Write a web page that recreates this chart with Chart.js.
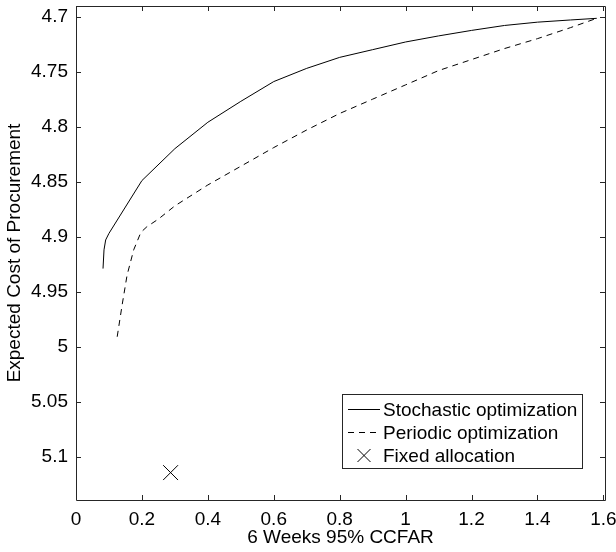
<!DOCTYPE html>
<html>
<head>
<meta charset="utf-8">
<script src="https://cdn.jsdelivr.net/npm/chart.js@4"></script>
<style>
  html, body { margin: 0; padding: 0; background: #fff; }
  #wrap { width: 616px; height: 552px; }
</style>
</head>
<body>
<div id="wrap"><canvas id="chart" width="616" height="552"></canvas></div>
<script>
(function () {
  "use strict";

  var xTickValues = [0, 0.2, 0.4, 0.6, 0.8, 1, 1.2, 1.4, 1.6];
  var yTickValues = [4.7, 4.75, 4.8, 4.85, 4.9, 4.95, 5, 5.05, 5.1];

  var stochasticX = [0.082, 0.085, 0.09, 0.1, 0.2, 0.3, 0.4, 0.5, 0.6, 0.7, 0.8, 0.9, 1.0, 1.1, 1.2, 1.3, 1.4, 1.5, 1.58];
  var stochasticY = [4.929, 4.912, 4.903, 4.897, 4.849, 4.820, 4.796, 4.777, 4.759, 4.747, 4.737, 4.730, 4.723, 4.7175, 4.7125, 4.708, 4.705, 4.703, 4.7015];

  var periodicX = [0.125, 0.14, 0.155, 0.175, 0.197, 0.215, 0.25, 0.3, 0.4, 0.5, 0.6, 0.7, 0.8, 0.9, 1.0, 1.1, 1.2, 1.3, 1.4, 1.5, 1.58];
  var periodicY = [4.991, 4.962, 4.935, 4.912, 4.896, 4.891, 4.884, 4.872, 4.853, 4.836, 4.819, 4.803, 4.788, 4.775, 4.762, 4.749, 4.739, 4.729, 4.720, 4.710, 4.7015];

  var fixedX = [0.287];
  var fixedY = [5.1145];

  var seriesLabels = ["Stochastic optimization", "Periodic optimization", "Fixed allocation"];

  var FONT = "'Liberation Sans', Arial, Helvetica, sans-serif";
  var SIZE = 19;
  var INK = "#000";
  var AXIS = "#262626";

  function toPoints(xs, ys) {
    return xs.map(function (x, i) {
      return { x: x, y: ys[i] };
    });
  }

  function fmt(v) {
    return String(+v.toFixed(2));
  }

  function zeroPadding(scale) {
    scale.paddingTop = 0;
    scale.paddingBottom = 0;
    scale.paddingLeft = 0;
    scale.paddingRight = 0;
  }

  // MATLAB style box with inward ticks on all four sides
  var boxPlugin = {
    id: "matlabBox",
    afterDatasetsDraw: function (chart) {
      var ctx = chart.ctx;
      var a = chart.chartArea;
      var xs = chart.scales.x;
      var ys = chart.scales.y;
      var len = 5;
      ctx.save();
      ctx.strokeStyle = AXIS;
      ctx.lineWidth = 1;
      ctx.beginPath();
      ctx.rect(Math.round(a.left) + 0.5, Math.round(a.top) + 0.5,
        Math.round(a.right - a.left), Math.round(a.bottom - a.top));
      xTickValues.forEach(function (v) {
        var px = Math.round(xs.getPixelForValue(v)) + 0.5;
        ctx.moveTo(px, a.bottom);
        ctx.lineTo(px, a.bottom - len);
        ctx.moveTo(px, a.top);
        ctx.lineTo(px, a.top + len);
      });
      yTickValues.forEach(function (v) {
        var py = Math.round(ys.getPixelForValue(v)) + 0.5;
        ctx.moveTo(a.left, py);
        ctx.lineTo(a.left + len, py);
        ctx.moveTo(a.right, py);
        ctx.lineTo(a.right - len, py);
      });
      ctx.stroke();
      ctx.restore();
    }
  };

  var legendPlugin = {
    id: "boxLegend",
    afterDraw: function (chart) {
      var ctx = chart.ctx;
      var a = chart.chartArea;
      var right = a.right - 23;
      var bottom = a.bottom - 32;
      var w = 240;
      var h = 74;
      var left = right - w;
      var top = bottom - h;
      ctx.save();
      ctx.fillStyle = "#fff";
      ctx.fillRect(left, top, w, h);
      ctx.strokeStyle = AXIS;
      ctx.lineWidth = 1;
      ctx.strokeRect(Math.round(left) + 0.5, Math.round(top) + 0.5, w, h);
      ctx.font = SIZE + "px " + FONT;
      ctx.textBaseline = "middle";
      ctx.fillStyle = INK;
      chart.data.datasets.forEach(function (ds, i) {
        var cy = Math.round(top + 15 + i * 22.8) + 0.5;
        var x0 = left + 6;
        var x1 = left + 38;
        ctx.strokeStyle = INK;
        ctx.lineWidth = 1;
        if (ds.showLine === false) {
          var cx = (x0 + x1) / 2;
          var r = 6.5;
          ctx.beginPath();
          ctx.moveTo(cx - r, cy - r);
          ctx.lineTo(cx + r, cy + r);
          ctx.moveTo(cx + r, cy - r);
          ctx.lineTo(cx - r, cy + r);
          ctx.stroke();
        } else {
          ctx.setLineDash(ds.borderDash || []);
          ctx.beginPath();
          ctx.moveTo(x0, cy);
          ctx.lineTo(x1, cy);
          ctx.stroke();
          ctx.setLineDash([]);
        }
        ctx.fillText(ds.label, left + 41, cy + 1);
      });
      ctx.restore();
    }
  };

  Chart.defaults.font.family = FONT;
  Chart.defaults.font.size = SIZE;
  Chart.defaults.color = INK;

  new Chart(document.getElementById("chart"), {
    type: "scatter",
    data: {
      datasets: [
        {
          label: seriesLabels[0],
          data: toPoints(stochasticX, stochasticY),
          showLine: true,
          borderColor: INK,
          borderWidth: 1,
          pointRadius: 0,
          tension: 0
        },
        {
          label: seriesLabels[1],
          data: toPoints(periodicX, periodicY),
          showLine: true,
          borderColor: INK,
          borderWidth: 1,
          borderDash: [6, 5],
          pointRadius: 0,
          tension: 0
        },
        {
          label: seriesLabels[2],
          data: toPoints(fixedX, fixedY),
          showLine: false,
          pointStyle: "crossRot",
          pointRadius: 10.5,
          borderColor: INK,
          backgroundColor: INK,
          borderWidth: 1
        }
      ]
    },
    plugins: [boxPlugin, legendPlugin],
    options: {
      responsive: false,
      animation: false,
      layout: {
        autoPadding: false,
        padding: { top: 6, right: 11, left: 0, bottom: 0 }
      },
      plugins: {
        legend: { display: false },
        tooltip: { enabled: false }
      },
      scales: {
        x: {
          type: "linear",
          min: 0,
          max: 1.605,
          grid: { display: false, drawTicks: false },
          border: { display: false },
          afterBuildTicks: function (scale) {
            scale.ticks = xTickValues.map(function (v) { return { value: v }; });
          },
          ticks: {
            padding: 8,
            maxRotation: 0,
            autoSkip: false,
            color: INK,
            font: { size: SIZE },
            callback: function (v) { return fmt(v); }
          },
          title: {
            display: true,
            text: "6 Weeks 95% CCFAR",
            color: INK,
            font: { size: SIZE },
            padding: { top: 0, bottom: 2.6 }
          },
          afterFit: function (scale) {
            scale.height = 52;
            zeroPadding(scale);
          },
          afterUpdate: zeroPadding
        },
        y: {
          type: "linear",
          reverse: true,
          min: 4.6903,
          max: 5.1394,
          grid: { display: false, drawTicks: false },
          border: { display: false },
          afterBuildTicks: function (scale) {
            scale.ticks = yTickValues.map(function (v) { return { value: v }; });
          },
          ticks: {
            padding: 8,
            autoSkip: false,
            color: INK,
            font: { size: SIZE },
            callback: function (v) { return fmt(v); }
          },
          title: {
            display: true,
            text: "Expected Cost of Procurement",
            color: INK,
            font: { size: SIZE },
            padding: { top: 3.5, bottom: 0 }
          },
          afterFit: function (scale) {
            scale.width = 76;
            zeroPadding(scale);
          },
          afterUpdate: zeroPadding
        }
      }
    }
  });
})();
</script>
</body>
</html>
